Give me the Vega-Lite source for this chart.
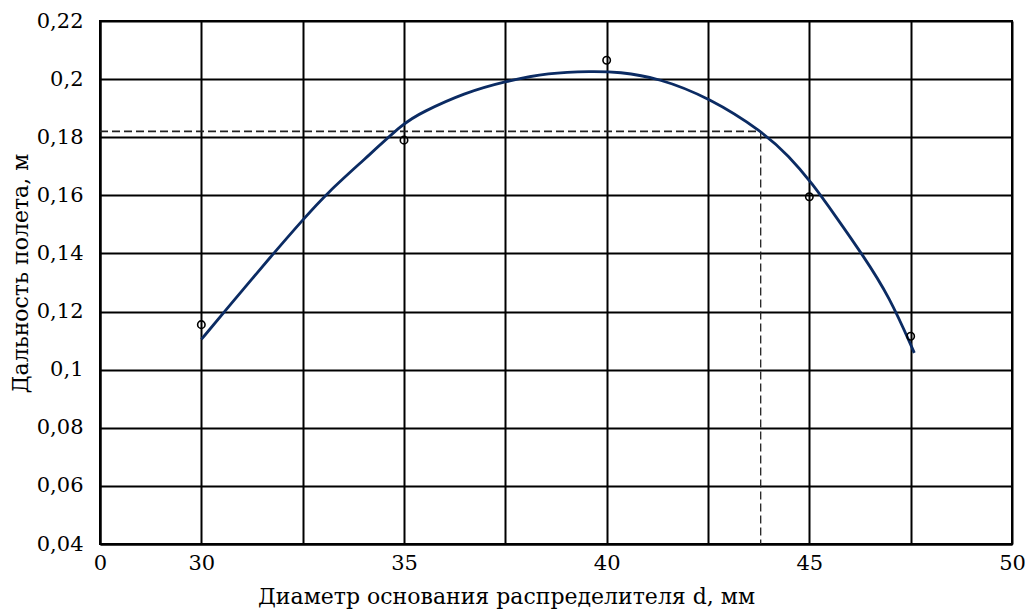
{
  "$schema": "https://vega.github.io/schema/vega-lite/v6.json",
  "width": 912,
  "height": 523,
  "autosize": "none",
  "padding": {"left": 100, "top": 21, "right": 13, "bottom": 66},
  "background": "white",
  "config": {
    "view": {"stroke": "black", "strokeWidth": 2},
    "font": "DejaVu Serif",
    "axis": {"labelFont": "DejaVu Serif", "titleFont": "DejaVu Serif"}
  },
  "datasets": {
    "curve": [
      {"d": 30.0, "r": 0.1104},
      {"d": 30.55, "r": 0.1196},
      {"d": 31.79, "r": 0.1402},
      {"d": 32.51, "r": 0.1517},
      {"d": 33.11, "r": 0.1609},
      {"d": 34.02, "r": 0.1723},
      {"d": 35.0, "r": 0.185},
      {"d": 35.42, "r": 0.1884},
      {"d": 36.49, "r": 0.1953},
      {"d": 37.52, "r": 0.1993},
      {"d": 38.56, "r": 0.2022},
      {"d": 39.63, "r": 0.2027},
      {"d": 40.3, "r": 0.2025},
      {"d": 41.28, "r": 0.2004},
      {"d": 42.53, "r": 0.1936},
      {"d": 43.84, "r": 0.182},
      {"d": 44.5, "r": 0.1735},
      {"d": 45.06, "r": 0.1643},
      {"d": 45.65, "r": 0.1528},
      {"d": 46.31, "r": 0.1396},
      {"d": 46.97, "r": 0.1253},
      {"d": 47.59, "r": 0.1058}
    ],
    "points": [
      {"d": 30, "r": 0.1155},
      {"d": 35, "r": 0.179},
      {"d": 40, "r": 0.2065},
      {"d": 45, "r": 0.1595},
      {"d": 47.5, "r": 0.1115}
    ],
    "hdash": [{"d": 27.5, "d2": 43.8, "r": 0.182}],
    "vdash": [{"d": 43.8, "r": 0.182, "r2": 0.04}]
  },
  "encoding": {
    "x": {
      "field": "d",
      "type": "quantitative",
      "scale": {"domain": [27.5, 50], "nice": false, "zero": false},
      "axis": {
        "values": [27.5, 30, 32.5, 35, 37.5, 40, 42.5, 45, 47.5, 50],
        "labelExpr": "datum.value == 27.5 ? '0' : (datum.value % 5 == 0 ? format(datum.value, 'd') : '')",
        "grid": true,
        "gridColor": "black",
        "gridWidth": 2,
        "gridOpacity": 1,
        "domainColor": "black",
        "domainWidth": 2,
        "ticks": false,
        "labelFontSize": 21,
        "labelColor": "black",
        "labelPadding": 8,
        "labelFlush": false,
        "labelOverlap": false,
        "title": "Диаметр основания распределителя d, мм",
        "titleFontSize": 22,
        "titleFontWeight": "normal",
        "titleColor": "black",
        "titleX": 406,
        "titleY": 52,
        "titleBaseline": "middle",
        "titleAlign": "center"
      }
    },
    "y": {
      "field": "r",
      "type": "quantitative",
      "scale": {"domain": [0.04, 0.22], "nice": false, "zero": false},
      "axis": {
        "values": [0.04, 0.06, 0.08, 0.1, 0.12, 0.14, 0.16, 0.18, 0.2, 0.22],
        "labelExpr": "replace(format(datum.value, '.2~f'), '.', ',')",
        "grid": true,
        "gridColor": "black",
        "gridWidth": 2,
        "gridOpacity": 1,
        "domainColor": "black",
        "domainWidth": 2,
        "ticks": false,
        "labelFontSize": 21,
        "labelColor": "black",
        "labelPadding": 17,
        "labelFlush": false,
        "labelOverlap": false,
        "title": "Дальность полета, м",
        "titleFontSize": 22,
        "titleFontWeight": "normal",
        "titleColor": "black",
        "titleAngle": -90,
        "titleX": -80,
        "titleY": 252,
        "titleBaseline": "middle",
        "titleAlign": "center"
      }
    }
  },
  "layer": [
    {
      "data": {"name": "hdash"},
      "mark": {"type": "rule", "color": "#222222", "strokeWidth": 1.6, "strokeDash": [8, 4]},
      "encoding": {"x2": {"field": "d2"}}
    },
    {
      "data": {"name": "vdash"},
      "mark": {"type": "rule", "color": "#222222", "strokeWidth": 1.3, "strokeDash": [8, 4]},
      "encoding": {"y2": {"field": "r2"}}
    },
    {
      "data": {"name": "curve"},
      "mark": {"type": "line", "color": "#0b2b63", "strokeWidth": 2.8, "interpolate": "basis"},
      "encoding": {"order": {"field": "d", "type": "quantitative"}}
    },
    {
      "data": {"name": "points"},
      "mark": {"type": "point", "filled": false, "shape": "circle", "size": 55, "stroke": "black", "strokeWidth": 1.6, "opacity": 1}
    }
  ]
}
